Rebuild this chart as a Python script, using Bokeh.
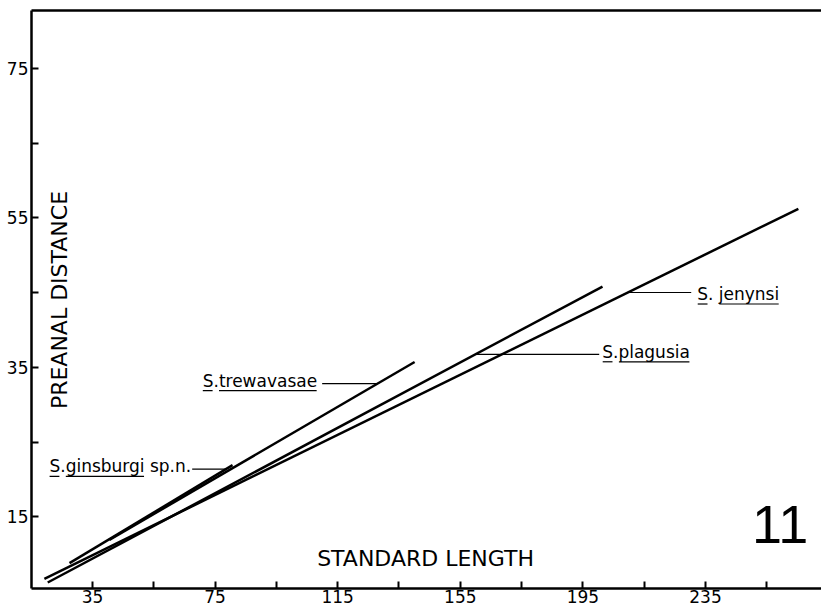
import math
from bokeh.plotting import figure
from bokeh.models import ColumnDataSource, FixedTicker, LinearAxis, Range1d
from bokeh.core.properties import value
from bokeh.embed import file_html
from bokeh.resources import INLINE

# ---- data (regression lines: standard length vs preanal distance)
species = ["S. jenynsi", "S.plagusia", "S.trewavasae", "S.ginsburgi sp.n."]
sl_start = [19.3, 20.4, 40.5, 27.5]
sl_end = [265.3, 201.4, 140.1, 80.7]
pd_start = [6.7, 6.2, 11.9, 8.8]
pd_end = [56.2, 45.8, 35.7, 21.9]

x_major = [35, 75, 115, 155, 195, 235]
x_minor = [55, 95, 135, 175, 215, 255]
y_major = [15, 35, 55, 75]
y_minor = [25, 45, 65]

x_title = "STANDARD LENGTH"
y_title = "PREANAL DISTANCE"
fig_number = "11"

# ---- layout
X0, X1 = 15.1, 272.85
Y0, Y1 = 5.4, 82.73
FW, FH = 790, 578
SX = FW / (X1 - X0)
SY = FH / (Y1 - Y0)
FONT = "DejaVu Sans"
LFS = 17
BASE_FIX = 0.38  # em: compensates where the svg backend puts an alphabetic baseline


def fix(y, fs):
    return y + BASE_FIX * fs / SY


p = figure(frame_width=FW, frame_height=FH,
           x_range=Range1d(X0, X1), y_range=Range1d(Y0, Y1),
           output_backend="svg", toolbar_location=None,
           min_border_left=31, min_border_right=0, min_border_top=10, min_border_bottom=0,
           background_fill_color="white", border_fill_color="white")
p.outline_line_color = None
p.xgrid.visible = False
p.ygrid.visible = False

for ax, maj, mnr, so in ((p.xaxis[0], x_major, x_minor, 1), (p.yaxis[0], y_major, y_minor, 3)):
    ax.ticker = FixedTicker(ticks=maj, minor_ticks=mnr)
    ax.axis_line_width = 2.5
    ax.axis_line_color = "black"
    ax.major_tick_in = 7
    ax.major_tick_out = 0
    ax.minor_tick_in = 7
    ax.minor_tick_out = 0
    ax.major_tick_line_width = 2
    ax.minor_tick_line_width = 2
    ax.major_tick_line_color = "black"
    ax.minor_tick_line_color = "black"
    ax.major_label_text_font = FONT
    ax.major_label_text_font_size = "17px"
    ax.major_label_text_color = "black"
    ax.major_label_standoff = so

top = LinearAxis(ticker=FixedTicker(ticks=[]), axis_line_width=2.5, axis_line_color="black",
                 major_tick_in=0, major_tick_out=0, minor_tick_in=0, minor_tick_out=0,
                 major_label_standoff=0, major_label_text_font_size="0px")
p.add_layout(top, "above")

src = ColumnDataSource(dict(x0=sl_start, x1=sl_end, y0=pd_start, y1=pd_end, name=species))
p.segment(x0="x0", y0="y0", x1="x1", y1="y1", source=src,
          line_color="black", line_width=2.5, line_cap="butt")

# ---- species labels with leader lines and underlines
ADV = {'S': .635, '.': .318, ' ': .318, 'j': .278, 'e': .615, 'n': .634, 'y': .592,
       's': .521, 'i': .278, 'p': .635, 'l': .278, 'a': .613, 'g': .635, 'u': .634,
       't': .392, 'r': .411, 'w': .818, 'v': .592, 'b': .635}


def tw(s):
    return sum(ADV[c] for c in s) * LFS


# (anchor x, baseline y, align, leader y, gap px, underlined parts)
label_layout = [
    (232.3, 43.93, "left", 45.0, 6, [(0, 1), (3, 10)]),
    (201.3, 36.2, "left", 36.73, 3, [(0, 1), (2, 10)]),
    (108.3, 32.33, "right", 32.8, 5, [(0, 1), (2, 12)]),
    (67.2, 20.87, "right", 21.36, 1, [(0, 1), (2, 11)]),
]

tx, ty, tt, ta = [], [], [], []
lx0, lx1, ly0, ly1 = [], [], [], []
ux0, ux1, uy = [], [], []
for i, (ax_, by, al, ly, gap, parts) in enumerate(label_layout):
    name = species[i]
    tx.append(ax_); ty.append(fix(by, LFS)); tt.append(name); ta.append(al)
    width = tw(name)
    left = ax_ if al == "left" else ax_ - width / SX
    xl = sl_start[i] + (ly - pd_start[i]) * (sl_end[i] - sl_start[i]) / (pd_end[i] - pd_start[i])
    xe = ax_ - gap / SX if al == "left" else ax_ + gap / SX
    lx0.append(xl); lx1.append(xe); ly0.append(ly); ly1.append(ly)
    for a, b in parts:
        s = left + (tw(name[:a]) + 0.5) / SX
        e = left + (tw(name[:b]) - 0.5) / SX
        ux0.append(s); ux1.append(e); uy.append(by - 3.5 / SY)

p.segment(x0=lx0, y0=ly0, x1=lx1, y1=ly1, line_color="black", line_width=1.2)
p.segment(x0=ux0, y0=uy, x1=ux1, y1=uy, line_color="black", line_width=1.2)
p.text(x=tx, y=ty, text=tt, text_align=ta, text_baseline="alphabetic",
       text_font=value(FONT), text_font_size=value("17px"), text_color="black")

# axis titles drawn inside the frame, as in the original
p.text(x=[108.3], y=[fix(8.33, 22)], text=[x_title], text_align="left", text_baseline="alphabetic",
       text_font=value(FONT), text_font_size=value("22px"), text_color="black")
p.text(x=[27.1 - BASE_FIX * 22 / SX], y=[29.4], text=[y_title], angle=math.pi / 2, text_align="left",
       text_baseline="alphabetic", text_font=value(FONT), text_font_size=value("22px"),
       text_color="black")
p.text(x=[268.5], y=[fix(11.27, 54)], text=[fig_number], text_align="right", text_baseline="alphabetic",
       text_font=value("Liberation Sans"), text_font_size=value("54px"), text_color="black")

open("out.html", "w").write(file_html(p, INLINE))
